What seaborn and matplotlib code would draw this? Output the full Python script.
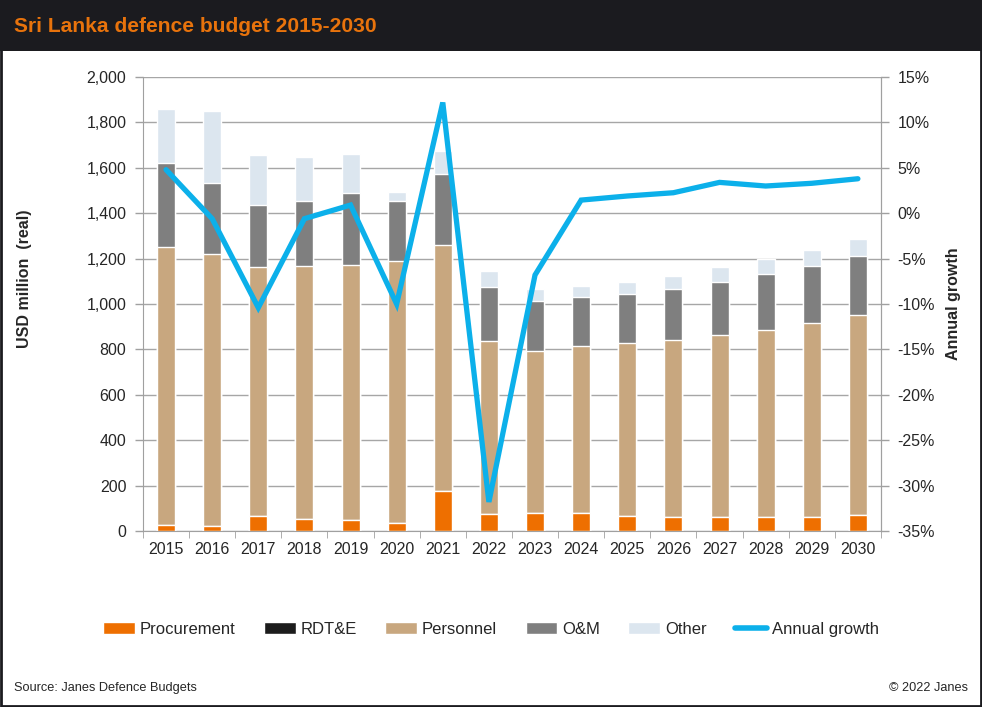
import numpy as np
import pandas as pd
import matplotlib
matplotlib.use("Agg")
import matplotlib.pyplot as plt
import seaborn as sns
from matplotlib.patches import Patch, Rectangle
from matplotlib.lines import Line2D
from matplotlib.ticker import FuncFormatter, MultipleLocator

years = [str(y) for y in range(2015, 2031)]
procurement = [26, 22, 68, 53, 48, 37, 176, 75, 81, 81, 68, 63, 63, 63, 63, 72]
rdte = [0] * 16
personnel = [1225, 1200, 1096, 1114, 1124, 1152, 1084, 762, 713, 735, 762, 780, 800, 822, 853, 879]
om = [371, 311, 272, 287, 317, 265, 313, 238, 219, 215, 214, 223, 234, 247, 251, 260]
other = [237, 317, 220, 193, 170, 39, 102, 70, 53, 48, 53, 57, 66, 66, 71, 75]
growth = [4.8, -0.6, -10.4, -0.6, 0.9, -10.0, 12.2, -31.8, -6.8, 1.45, 1.9, 2.26, 3.4, 3.0, 3.3, 3.8]

names = ["Procurement", "RDT&E", "Personnel", "O&M", "Other"]
colors = ["#ee6f00", "#1c1c1c", "#c8a77f", "#7f7f7f", "#dce6ef"]
line_color = "#0cb0ea"

sns.set_style("white")
plt.rcParams["font.family"] = ["Liberation Sans", "DejaVu Sans"]

df = pd.DataFrame({"year": years, "Procurement": procurement, "RDT&E": rdte,
                   "Personnel": personnel, "O&M": om, "Other": other})
cum = df[names].cumsum(axis=1)
cum["year"] = years

fig = plt.figure(figsize=(9.82, 7.07), dpi=100)
ax = fig.add_axes([0.1456, 0.2489, 0.7515, 0.6421])

# stacked bars: draw cumulative totals from top layer down
for name, col in reversed(list(zip(names, colors))):
    sns.barplot(data=cum, x="year", y=name, color=col, saturation=1,
                width=0.39, ax=ax, zorder=2)

ax.set_ylim(0, 2000)
ax.set_xlim(-0.5, 15.5)
ax.yaxis.set_major_locator(MultipleLocator(200))
ax.yaxis.set_major_formatter(FuncFormatter(lambda v, p: f"{v:,.0f}"))
ax.grid(axis="y", color="#a6a6a6", linewidth=1, zorder=0)
ax.set_axisbelow(True)
ax.set_xlabel("")
ax.set_ylabel("USD million  (real)", fontsize=11.5, fontweight="bold")
ax.yaxis.set_label_coords(-0.150, 0.555)
ax.tick_params(axis="y", direction="out", length=6, width=1, color="#a0a0a0",
               labelsize=11.5, pad=6, left=True)
ax.set_xticks(range(16))
ax.set_xticklabels(years)
ax.set_xticks(np.arange(-0.5, 16, 1), minor=True)
ax.tick_params(axis="x", which="major", length=0, labelsize=11.5, pad=8)
ax.tick_params(axis="x", which="minor", direction="out", length=5, color="#a0a0a0", bottom=True)
for side in ["left", "bottom", "right"]:
    ax.spines[side].set_color("#a0a0a0")
ax.spines["top"].set_visible(False)

ax2 = ax.twinx()
sns.lineplot(x=np.arange(16), y=growth, ax=ax2, color=line_color, linewidth=3.8,
             solid_joinstyle="miter")
ax2.set_ylim(-35, 15)
ax2.set_xlim(-0.5, 15.5)
ax2.yaxis.set_major_locator(MultipleLocator(5))
ax2.yaxis.set_major_formatter(FuncFormatter(lambda v, p: f"{v:.0f}%"))
ax2.tick_params(axis="y", direction="out", length=6, width=1, color="#a0a0a0",
                labelsize=11.5, pad=6, right=True)
ax2.set_ylabel("Annual growth", fontsize=11.5, fontweight="bold", labelpad=8)
for side in ["left", "top", "bottom"]:
    ax2.spines[side].set_visible(False)
ax2.spines["right"].set_color("#a0a0a0")

handles = [Patch(facecolor=c, label=n) for n, c in zip(names, colors)]
handles.append(Line2D([0], [0], color=line_color, linewidth=4, label="Annual growth",
                      solid_capstyle="round"))
fig.legend(handles=handles, loc="center", bbox_to_anchor=(0.5, 0.110), ncol=6,
           frameon=False, prop={"size": 12},
           handlelength=1.9, handletextpad=0.3, columnspacing=1.7)

# title bar and frame
fig.patches.append(Rectangle((0, 1 - 51 / 707), 1, 51 / 707, transform=fig.transFigure,
                             facecolor="#1b1b1f", edgecolor="none", zorder=0))
fig.patches.append(Rectangle((0.001, 0.001), 0.998, 0.998, transform=fig.transFigure,
                             facecolor="none", edgecolor="#1b1b1f", linewidth=2, zorder=5))
fig.text(14 / 982, 1 - 27 / 707, "Sri Lanka defence budget 2015-2030", color="#e8730c",
         fontsize=15.1, fontweight="bold", va="center", ha="left")
fig.text(14 / 982, 1 - 688 / 707, "Source: Janes Defence Budgets", fontsize=9.2,
         va="center", ha="left")
fig.text(968 / 982, 1 - 688 / 707, "\u00a9 2022 Janes", fontsize=9.2,
         va="center", ha="right")

fig.savefig("out.png", dpi=100)
